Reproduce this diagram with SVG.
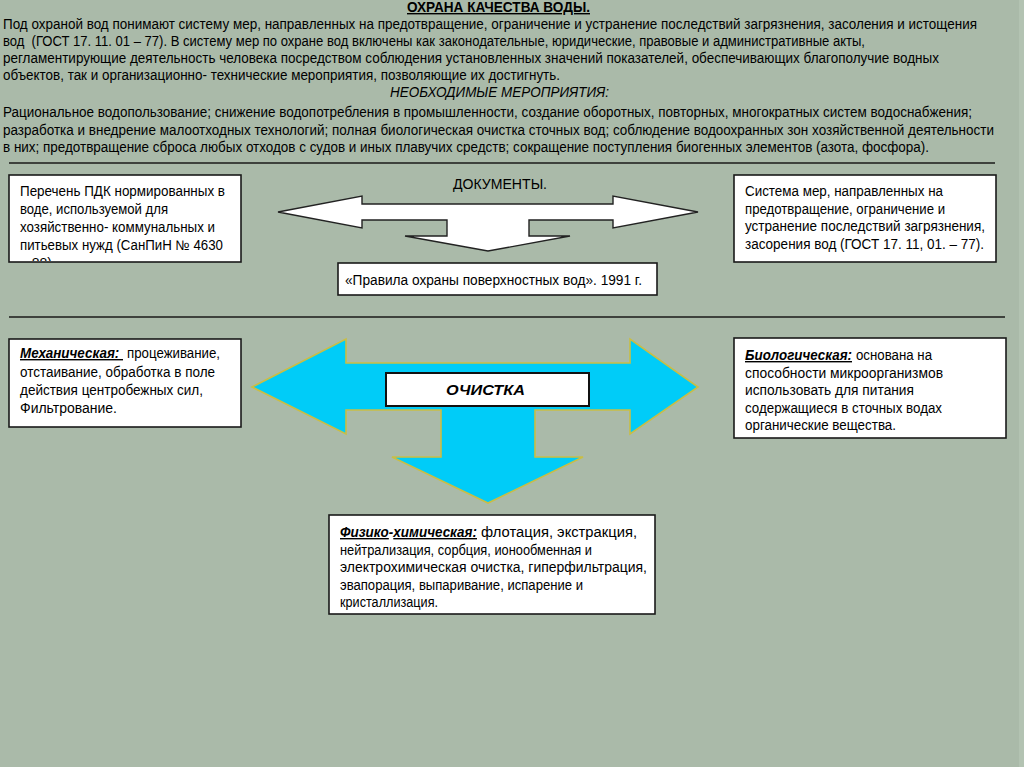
<svg xmlns="http://www.w3.org/2000/svg" width="1024" height="767" viewBox="0 0 1024 767">
<defs>
<style>
.t{font-family:"Liberation Sans",Arial,sans-serif;font-size:14px;fill:#000}
.b{font-family:"Liberation Sans",Arial,sans-serif;font-size:14px;fill:#000}
.bi{font-weight:bold;font-style:italic;text-decoration:underline}
.box{fill:#fff;stroke:#1a1a1a;stroke-width:1.6}
.rule{stroke:#1a1a1a;stroke-width:1.5}
.warrow{fill:#fff;stroke:#222;stroke-width:1.4;stroke-linejoin:miter}
.barrow{fill:#00CCF8;stroke:#C9BE45;stroke-width:1.6;stroke-linejoin:miter}
</style>
<clipPath id="clipL"><rect x="10" y="176" width="230" height="85"/></clipPath>
</defs>
<rect x="0" y="0" width="1024" height="767" fill="#AABAA9"/>
<rect x="1019" y="0" width="5" height="767" fill="#B3C3B2"/>

<g id="header">
<text class="t" x="407" y="12" font-weight="bold" text-decoration="underline" textLength="183" lengthAdjust="spacingAndGlyphs">ОХРАНА КАЧЕСТВА ВОДЫ.</text>
<text class="t" x="3" y="29" textLength="974" lengthAdjust="spacingAndGlyphs">Под охраной вод понимают систему мер, направленных на предотвращение, ограничение и устранение последствий загрязнения, засоления и истощения</text>
<text class="t" x="3" y="46" textLength="862" lengthAdjust="spacingAndGlyphs" xml:space="preserve">вод  (ГОСТ 17. 11. 01 – 77). В систему мер по охране вод включены как законодательные, юридические, правовые и административные акты,</text>
<text class="t" x="3" y="63" textLength="936" lengthAdjust="spacingAndGlyphs">регламентирующие деятельность человека посредством соблюдения установленных значений показателей, обеспечивающих благополучие водных</text>
<text class="t" x="3" y="80" textLength="557" lengthAdjust="spacingAndGlyphs">объектов, так и организационно- технические мероприятия, позволяющие их достигнуть.</text>
<text class="t" x="390" y="97" font-style="italic" font-size="13.5" textLength="219" lengthAdjust="spacingAndGlyphs">НЕОБХОДИМЫЕ МЕРОПРИЯТИЯ:</text>
<text class="t" x="3" y="117" textLength="969" lengthAdjust="spacingAndGlyphs">Рациональное водопользование; снижение водопотребления в промышленности, создание оборотных, повторных, многократных систем водоснабжения;</text>
<text class="t" x="3" y="135" font-size="13" textLength="991" lengthAdjust="spacingAndGlyphs">разработка и внедрение малоотходных технологий; полная биологическая очистка сточных вод; соблюдение водоохранных зон хозяйственной деятельности</text>
<text class="t" x="3" y="152" textLength="926" lengthAdjust="spacingAndGlyphs">в них; предотвращение сброса любых отходов с судов и иных плавучих средств; сокращение поступления биогенных элементов (азота, фосфора).</text>
</g>

<g id="rules">
<line class="rule" x1="9" y1="163" x2="995" y2="163"/>
<line class="rule" x1="9" y1="317" x2="1005" y2="317"/>
</g>

<g id="connectors">
<path class="warrow" d="M278,212 L362,196 L362,204 L613,204 L613,196 L698,212 L613,228 L613,220 L529,220 L529,236 L570,236 L488,251 L405,236 L447,236 L447,220 L362,220 L362,228 Z"/>
<path class="barrow" d="M252,387 L346,339 L346,363 L630,363 L630,339 L698,387 L630,434 L630,410 L535,410 L535,457 L583,457 L488,503 L392,457 L441,457 L441,410 L346,410 L346,434 Z"/>
</g>

<g id="documents-title">
<text class="t" x="453" y="189" textLength="94" lengthAdjust="spacingAndGlyphs">ДОКУМЕНТЫ.</text>
</g>

<g id="node-pdk">
<rect class="box" x="9" y="175" width="232" height="87"/>
<g clip-path="url(#clipL)">
<text class="b" x="20" y="196" textLength="205" lengthAdjust="spacingAndGlyphs">Перечень ПДК нормированных в</text>
<text class="b" x="20" y="214" textLength="148" lengthAdjust="spacingAndGlyphs">воде, используемой для</text>
<text class="b" x="20" y="232" textLength="195" lengthAdjust="spacingAndGlyphs">хозяйственно- коммунальных и</text>
<text class="b" x="20" y="250" textLength="203" lengthAdjust="spacingAndGlyphs">питьевых нужд (СанПиН № 4630</text>
<text class="b" x="20" y="268">– 88)</text>
</g>
</g>

<g id="node-gost">
<rect class="box" x="734" y="175" width="262" height="87"/>
<text class="b" x="745" y="196" textLength="198" lengthAdjust="spacingAndGlyphs">Система мер, направленных на</text>
<text class="b" x="745" y="213.5" textLength="200" lengthAdjust="spacingAndGlyphs">предотвращение, ограничение и</text>
<text class="b" x="745" y="231" textLength="240" lengthAdjust="spacingAndGlyphs">устранение последствий загрязнения,</text>
<text class="b" x="745" y="248.5" textLength="239" lengthAdjust="spacingAndGlyphs">засорения вод (ГОСТ 17. 11, 01. – 77).</text>
</g>

<g id="node-rules">
<rect class="box" x="338" y="263" width="319" height="32"/>
<text class="b" x="345" y="285" textLength="297" lengthAdjust="spacingAndGlyphs">«Правила охраны поверхностных вод». 1991 г.</text>
</g>

<g id="node-mech">
<rect class="box" x="9" y="339" width="232" height="88"/>
<text class="b bi" x="20" y="358" textLength="103" lengthAdjust="spacingAndGlyphs" xml:space="preserve">Механическая: </text>
<text class="b" x="127" y="358" textLength="93" lengthAdjust="spacingAndGlyphs">процеживание,</text>
<text class="b" x="20" y="377" textLength="195" lengthAdjust="spacingAndGlyphs">отстаивание, обработка в поле</text>
<text class="b" x="20" y="395" textLength="183" lengthAdjust="spacingAndGlyphs">действия центробежных сил,</text>
<text class="b" x="20" y="413" textLength="97" lengthAdjust="spacingAndGlyphs">Фильтрование.</text>
</g>

<g id="node-ochistka">
<rect x="386" y="373" width="203" height="33" fill="#fff" stroke="#111" stroke-width="2"/>
<text class="b" x="446" y="395" font-weight="bold" font-style="italic" font-size="15" textLength="79" lengthAdjust="spacingAndGlyphs">ОЧИСТКА</text>
</g>

<g id="node-bio">
<rect class="box" x="734" y="338" width="272" height="100"/>
<text class="b bi" x="745" y="360" textLength="107" lengthAdjust="spacingAndGlyphs">Биологическая:</text>
<text class="b" x="856" y="360" textLength="76" lengthAdjust="spacingAndGlyphs">основана на</text>
<text class="b" x="745" y="377.5" textLength="198" lengthAdjust="spacingAndGlyphs">способности микроорганизмов</text>
<text class="b" x="745" y="395" textLength="169" lengthAdjust="spacingAndGlyphs">использовать для питания</text>
<text class="b" x="745" y="412.5" textLength="197" lengthAdjust="spacingAndGlyphs">содержащиеся в сточных водах</text>
<text class="b" x="745" y="430" textLength="151" lengthAdjust="spacingAndGlyphs">органические вещества.</text>
</g>

<g id="node-phys">
<rect class="box" x="329" y="515" width="326" height="99"/>
<text class="b" x="340" y="537" font-weight="bold" font-style="italic" font-size="13.5" textLength="137" lengthAdjust="spacingAndGlyphs"><tspan text-decoration="underline">Физико</tspan>-<tspan text-decoration="underline">химическая:</tspan></text>
<text class="b" x="481" y="537" textLength="156" lengthAdjust="spacingAndGlyphs">флотация, экстракция,</text>
<text class="b" x="340" y="555" textLength="252" lengthAdjust="spacingAndGlyphs">нейтрализация, сорбция, ионообменная и</text>
<text class="b" x="340" y="572" textLength="307" lengthAdjust="spacingAndGlyphs">электрохимическая очистка, гиперфильтрация,</text>
<text class="b" x="340" y="590" textLength="243" lengthAdjust="spacingAndGlyphs">эвапорация, выпаривание, испарение и</text>
<text class="b" x="340" y="607" textLength="98" lengthAdjust="spacingAndGlyphs">кристаллизация.</text>
</g>
</svg>
